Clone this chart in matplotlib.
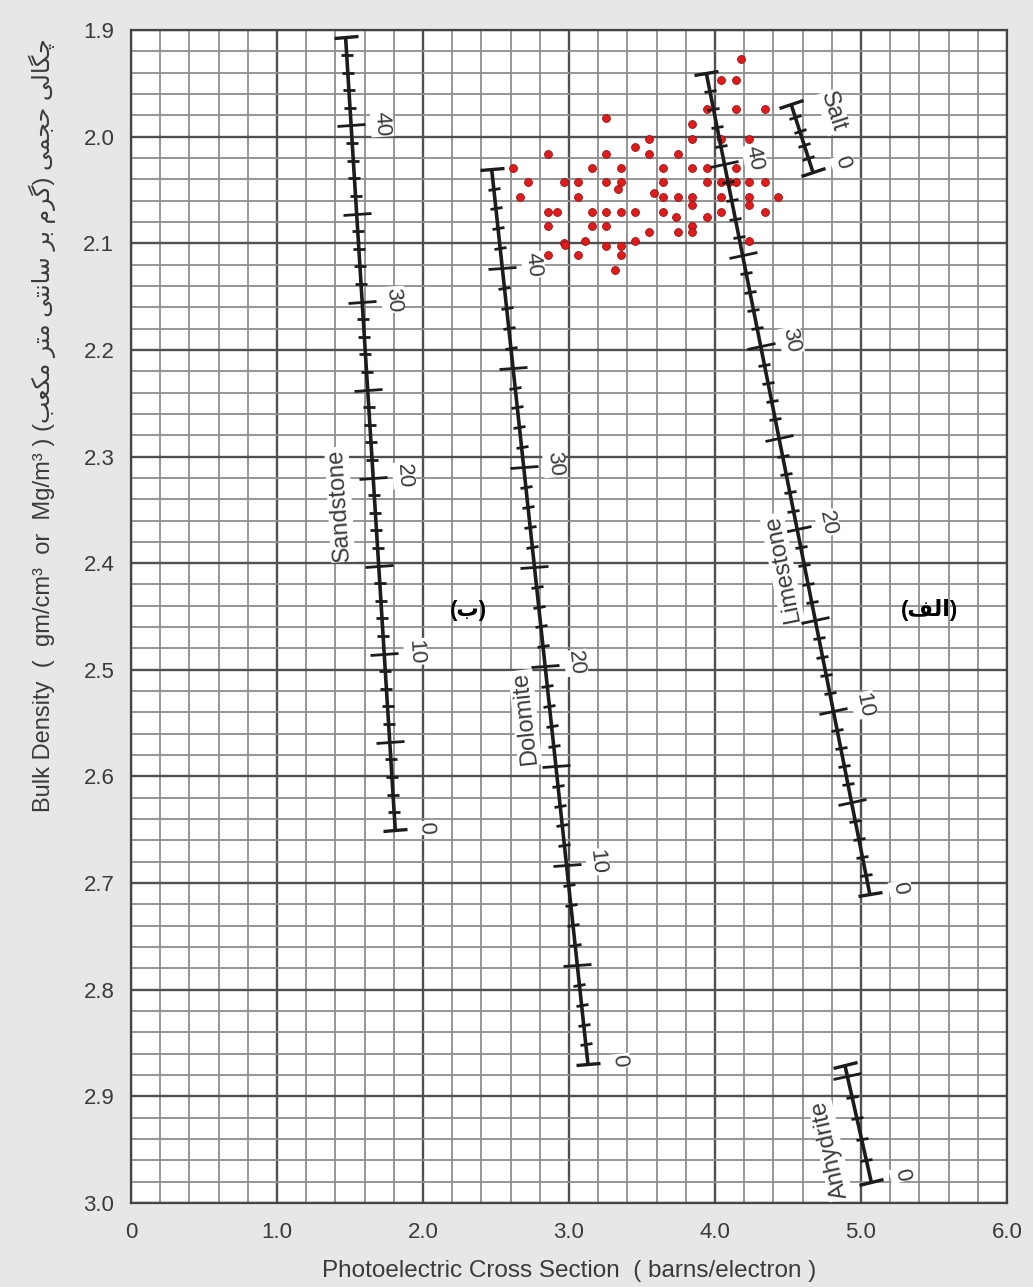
import numpy as np
import matplotlib
matplotlib.use('Agg')
import matplotlib.pyplot as plt
from matplotlib.markers import MarkerStyle
from matplotlib.transforms import Affine2D

# mineral lines: photoelectric factor / bulk density at 0 porosity and at the top end
mineral_names = ['Sandstone', 'Dolomite', 'Limestone', 'Salt', 'Anhydrite']
pe_at_zero = [1.81, 3.13, 5.06, 4.67, 5.07]
rho_at_zero = [2.65, 2.87, 2.71, 2.033, 2.98]
pe_at_top = [1.47, 2.47, 3.94, 4.52, 4.89]
rho_at_top = [1.907, 2.03, 1.94, 1.969, 2.871]
phi_top = [45, 45, 45, 5, 5.5]

# red sample points
sample_pe = [3.257, 2.858, 2.620, 2.721, 2.664, 2.964, 3.059, 3.059, 2.858, 2.919,
             2.858, 2.964, 2.858, 3.059, 3.110, 3.160, 3.160, 3.160, 3.257, 3.257,
             3.257, 3.257, 3.257, 3.313, 3.358, 3.358, 3.336, 3.358, 3.358, 3.358,
             3.453, 3.453, 3.453, 3.549, 3.549, 3.583, 3.549, 3.646, 3.646, 3.646,
             3.646, 3.748, 3.748, 3.734, 3.748, 3.845, 3.845, 3.845, 3.845, 3.845,
             3.845, 3.845, 3.948, 3.948, 3.948, 3.948, 4.041, 4.041, 4.041, 4.041,
             4.144, 4.144, 4.144, 4.236, 4.236, 4.236, 4.236, 4.236, 4.342, 4.342,
             4.342, 4.432, 4.176, 4.041, 4.147, 4.095, 2.975]
sample_rho = [1.983, 2.016, 2.029, 2.043, 2.057, 2.043, 2.043, 2.057, 2.071, 2.071,
              2.084, 2.100, 2.111, 2.111, 2.098, 2.029, 2.071, 2.084, 2.016, 2.043,
              2.071, 2.084, 2.103, 2.125, 2.029, 2.043, 2.049, 2.071, 2.103, 2.111,
              2.010, 2.071, 2.098, 2.002, 2.016, 2.053, 2.089, 2.029, 2.043, 2.057,
              2.071, 2.016, 2.057, 2.075, 2.089, 1.988, 2.002, 2.029, 2.057, 2.064,
              2.084, 2.089, 1.974, 2.029, 2.043, 2.075, 2.002, 2.043, 2.057, 2.071,
              1.974, 2.029, 2.043, 2.002, 2.043, 2.057, 2.064, 2.098, 1.974, 2.043,
              2.071, 2.057, 1.927, 1.947, 1.947, 2.043, 2.102]

x_ticks = [0, 1.0, 2.0, 3.0, 4.0, 5.0, 6.0]
x_tick_labels = ['0', '1.0', '2.0', '3.0', '4.0', '5.0', '6.0']
y_ticks = [1.9, 2.0, 2.1, 2.2, 2.3, 2.4, 2.5, 2.6, 2.7, 2.8, 2.9, 3.0]

# where the mineral names sit
name_pos = {'Sandstone': (1.43, 2.345), 'Dolomite': (2.70, 2.545),
            'Limestone': (4.46, 2.405), 'Salt': (4.81, 1.977),
            'Anhydrite': (4.79, 2.95)}

# minimal Persian shaping (presentation forms) + right-to-left ordering
FORMS = {
    '\u0627': ('\uFE8D', '\uFE8E', None, None),
    '\u0628': ('\uFE8F', '\uFE90', '\uFE91', '\uFE92'),
    '\u062A': ('\uFE95', '\uFE96', '\uFE97', '\uFE98'),
    '\u062C': ('\uFE9D', '\uFE9E', '\uFE9F', '\uFEA0'),
    '\u062D': ('\uFEA1', '\uFEA2', '\uFEA3', '\uFEA4'),
    '\u0631': ('\uFEAD', '\uFEAE', None, None),
    '\u0633': ('\uFEB1', '\uFEB2', '\uFEB3', '\uFEB4'),
    '\u0639': ('\uFEC9', '\uFECA', '\uFECB', '\uFECC'),
    '\u0641': ('\uFED1', '\uFED2', '\uFED3', '\uFED4'),
    '\u0644': ('\uFEDD', '\uFEDE', '\uFEDF', '\uFEE0'),
    '\u0645': ('\uFEE1', '\uFEE2', '\uFEE3', '\uFEE4'),
    '\u0646': ('\uFEE5', '\uFEE6', '\uFEE7', '\uFEE8'),
    '\u0686': ('\uFB7A', '\uFB7B', '\uFB7C', '\uFB7D'),
    '\u06A9': ('\uFB8E', '\uFB8F', '\uFB90', '\uFB91'),
    '\u06AF': ('\uFB92', '\uFB93', '\uFB94', '\uFB95'),
    '\u06CC': ('\uFBFC', '\uFBFD', '\uFBFE', '\uFBFF'),
}


def fa(s):
    out = []
    for i, c in enumerate(s):
        if c not in FORMS:
            out.append(c)
            continue
        prev = s[i - 1] if i > 0 else ''
        nxt = s[i + 1] if i + 1 < len(s) else ''
        jp = prev in FORMS and FORMS[prev][2] is not None
        jn = nxt in FORMS and FORMS[c][2] is not None
        iso, fin, ini, med = FORMS[c]
        if jp and jn:
            out.append(med)
        elif jp:
            out.append(fin)
        elif jn:
            out.append(ini)
        else:
            out.append(iso)
    vis = ''.join(out)[::-1]
    return vis.translate(str.maketrans('()', ')('))


FAM = ['Liberation Sans', 'DejaVu Sans']
TXT = '#3a3a3a'

fig = plt.figure(figsize=(10.33, 12.87), dpi=100, facecolor='#e7e7e7')
ax = fig.add_axes([0.1268, 0.0653, 0.848, 0.9114])
ax.set_facecolor('white')
ax.set_xlim(0, 6)
ax.set_ylim(3.0, 1.9)
ax.set_xticks(x_ticks)
ax.set_xticklabels(x_tick_labels, family=FAM, fontsize=16, color=TXT)
ax.set_yticks(y_ticks)
ax.set_yticklabels(['%.1f' % v for v in y_ticks], family=FAM, fontsize=16, color=TXT)
ax.set_xticks(np.arange(0, 6.001, 0.2), minor=True)
ax.set_yticks(np.arange(1.9, 3.0001, 0.02), minor=True)
ax.grid(which='minor', color='#8e8e8e', lw=1.3)
ax.grid(which='major', color='#505050', lw=1.7)
ax.set_axisbelow(True)
ax.tick_params(which='both', length=0)
ax.tick_params(axis='y', pad=12)
ax.tick_params(axis='x', pad=14)
for sp in ax.spines.values():
    sp.set_color('#444444')
    sp.set_linewidth(1.6)

ax.set_xlabel('Photoelectric Cross Section  ( barns/electron )', family=FAM,
              fontsize=17.5, color=TXT, labelpad=12)
ax.set_ylabel('Bulk Density  (  gm/cm\u00b3  or  Mg/m\u00b3 ) '
              + fa('\u0686\u06AF\u0627\u0644\u06CC \u062D\u062C\u0645\u06CC '
                   '(\u06AF\u0631\u0645 \u0628\u0631 \u0633\u0627\u0646\u062A\u06CC '
                   '\u0645\u062A\u0631 \u0645\u06A9\u0639\u0628)'),
              family=FAM, fontsize=17, color=TXT)
ax.yaxis.set_label_coords(-0.086, 0.663)

ax.scatter(sample_pe, sample_rho, s=32, color='#e01b1b', edgecolors='#9a1010',
           linewidths=0.6, zorder=3)

LINE = '#1c1c1c'
for name, p0, r0, p1, r1, ptop in zip(mineral_names, pe_at_zero, rho_at_zero,
                                      pe_at_top, rho_at_top, phi_top):
    a0 = ax.transData.transform((p0, r0))
    a1 = ax.transData.transform((p1, r1))
    up = np.degrees(np.arctan2(a1[1] - a0[1], a1[0] - a0[0]))
    down = up - 180
    ax.plot([p0, p1], [r0, r1], color=LINE, lw=2.6, solid_capstyle='butt', zorder=4)
    tick = MarkerStyle('_', transform=Affine2D().rotate_deg(up + 90))
    phis = np.arange(1, int(np.floor(ptop)) + 1)
    phis = phis[phis < ptop]
    for ph in phis:
        t = ph / ptop
        x = p0 + t * (p1 - p0)
        y = r0 + t * (r1 - r0)
        size = 20 if ph % 5 == 0 else 9
        ax.plot([x], [y], marker=tick, ms=size, mew=2.0, color=LINE, zorder=4)
    ax.plot([p0, p1], [r0, r1], ls='none', marker=tick, ms=18, mew=2.4,
            color=LINE, zorder=4)
    rad = np.radians(down + 90)
    off = (31 * np.cos(rad), 31 * np.sin(rad))
    for ph in range(0, int(ptop) + 1, 10):
        t = ph / ptop
        x = p0 + t * (p1 - p0)
        y = r0 + t * (r1 - r0)
        ax.annotate(str(ph), xy=(x, y), xytext=off, textcoords='offset pixels',
                    rotation=down, rotation_mode='anchor', ha='center', va='center',
                    family=FAM, fontsize=16, color=TXT, zorder=5,
                    bbox=dict(fc='white', ec='none', pad=0.6))
    nx, ny = name_pos[name]
    rot = down if name == 'Salt' else up
    ax.text(nx, ny, name, rotation=rot, rotation_mode='anchor', ha='center',
            va='center', family=FAM, fontsize=17, color=TXT, zorder=5,
            bbox=dict(fc='white', ec='none', pad=0.8))

ax.text(2.31, 2.444, fa('(\u0628)'), family=FAM, fontsize=16, weight='bold',
        color='black', ha='center', va='center', zorder=5)
ax.text(5.47, 2.444, fa('(\u0627\u0644\u0641)'), family=FAM, fontsize=16,
        weight='bold', color='black', ha='center', va='center', zorder=5)

fig.savefig('out.png', dpi=100, facecolor=fig.get_facecolor())
